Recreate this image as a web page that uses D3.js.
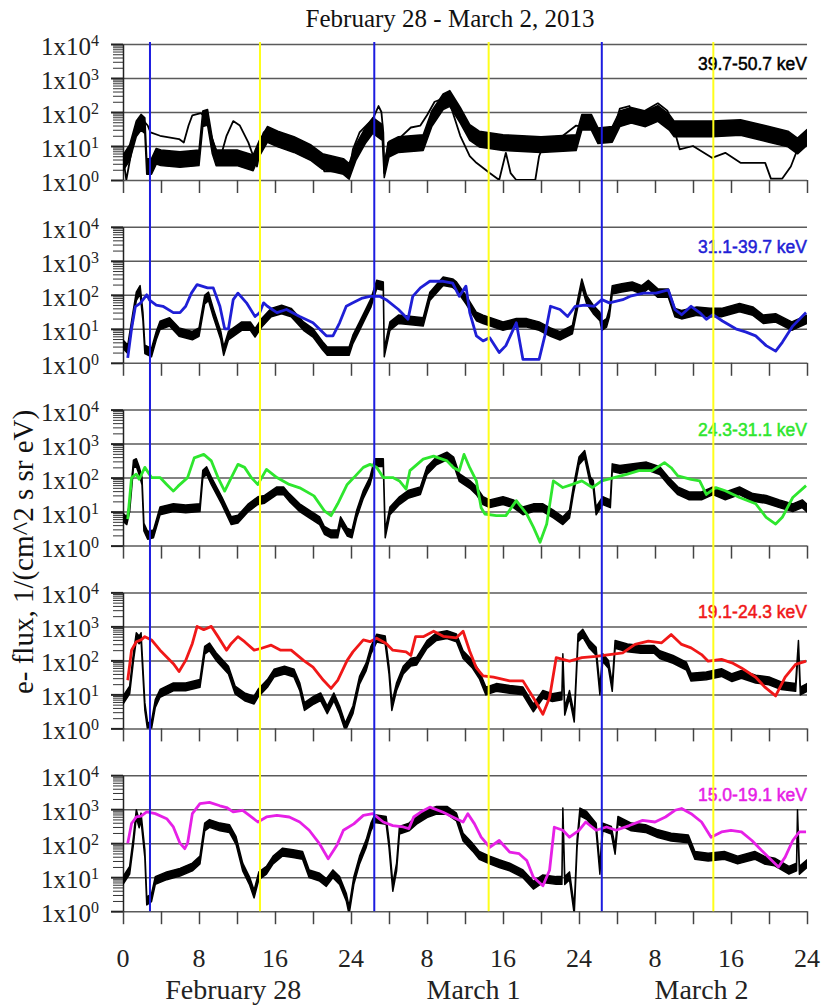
<!DOCTYPE html>
<html><head><meta charset="utf-8">
<script src="https://cdn.jsdelivr.net/npm/d3@7"></script>
<style>
html,body{margin:0;padding:0;background:#fff;}
svg{display:block;}
</style></head>
<body>
<script>
// ---------------- data ----------------
const title = "February 28 - March 2, 2013";
const yAxisTitle = "e- flux, 1/(cm^2 s sr eV)";
const channelLabels = ["39.7-50.7 keV", "31.1-39.7 keV", "24.3-31.1 keV", "19.1-24.3 keV", "15.0-19.1 keV"];
const decades = [0, 1, 2, 3, 4];
const xTickHours = [0,4,8,12,16,20,24,28,32,36,40,44,48,52,56,60,64,68,72];
const xLabelHours = [0,8,16,24,32,40,48,56,64,72];
const xLabelText = ["0","8","16","24","8","16","24","8","16","24"];
const dayLabels = ["February 28", "March 1", "March 2"];
const dayLabelHours = [11.6, 36.9, 60.9];
const blueLineHours = [2.84, 26.45, 50.4];
const yellowLineHours = [14.42, 38.49, 62.14];
// spread (multiplicative) of the noisy reference flux in each panel
const refSpread = [1.7, 1.33, 1.3, 1.3, 1.3];

// [hour, flux] — panel 1, 39.7-50.7 keV (thin black)
const ch1 = [[0,5],[0.35,1],[0.8,5],[1.4,40],[2.0,63],[2.6,40],[2.9,25],[3.9,20],[5.9,16],[6.4,12.6],[6.9,40],[7.3,80],[8.2,93],[8.8,63],[9.5,12.6],[10.2,4],[10.9,20],[11.6,54],[12.3,40],[13.2,12.6],[14.1,2.5],[14.8,25],[15.2,30],[15.8,20],[16.8,16],[18.6,10],[20.7,4],[21.2,1.8],[23.8,1.8],[24.2,8],[24.9,25],[25.6,40],[26.3,63],[26.9,150],[27.2,100],[27.4,25],[27.5,1.6],[27.9,12.6],[29,16],[30.3,35],[31.3,40],[32,80],[32.8,200],[33.7,250],[34.4,180],[35.5,20],[36.5,5],[37.2,3.2],[38.6,1.6],[39.6,1],[40.3,6.3],[40.8,1.6],[41.4,1],[43.4,1],[43.8,5],[44.5,16],[46.3,20],[47.7,40],[49.5,32],[51.5,20],[52.3,126],[53.3,150],[54,63],[54.7,100],[56.3,180],[57.3,110],[57.9,40],[58.6,8],[60,10],[62,4.5],[63.4,6.3],[65,3.2],[67.6,3.2],[68.2,1.1],[69.4,1.1],[70.3,2.5],[71,8],[72,16]];
const ref1 = [[0,3.2],[0.7,6.3],[1.4,32],[1.9,50],[2.3,40],[2.5,2.5],[3.0,2.5],[3.5,5],[4,4.5],[6,4],[8,4.5],[8.4,63],[8.9,70],[9.4,10],[9.8,4.5],[12,4.5],[13.7,3.2],[14.3,8],[15.2,22],[16.3,16],[18,11],[19.8,6.3],[21,3.5],[23.2,2.5],[23.8,1.8],[24.5,6.3],[25.5,20],[26.3,40],[27.3,25],[27.5,2],[28,8],[29,11],[31.6,12.6],[32.5,63],[33.7,200],[34.4,250],[35.5,80],[36.5,25],[37.5,16],[40,12.6],[44,11],[47.7,12.6],[48.3,50],[49.3,50],[50,20],[51.5,22],[52.3,63],[53.5,80],[55,63],[56.3,90],[57.5,50],[58,32],[62,32],[65,35],[68,22],[70,16],[71,10],[72,18]];

// panel 2, 31.1-39.7 keV
const ch2 = [[0.5,1.4],[0.9,10],[1.3,45],[1.8,56],[2.5,100],[2.8,70],[3.5,50],[4.2,46],[5.3,30],[6.0,30],[6.6,46],[7.2,112],[7.8,200],[8.9,160],[9.5,160],[10.2,46],[10.7,10],[11.1,10],[11.6,72],[12.1,112],[13.0,58],[13.9,23],[14.4,30],[14.8,58],[15.2,46],[16.2,30],[17.2,37],[18.6,23],[20.0,15],[21.4,6.2],[22.1,6.2],[22.8,15],[23.5,46],[24.2,58],[25.2,80],[26.0,90],[27.0,90],[27.7,72],[29.0,37],[30.0,19],[30.5,90],[31.3,160],[32.3,250],[33.7,250],[34.7,220],[35.4,90],[36.1,180],[36.5,30],[37.2,6.2],[37.9,4.4],[38.6,5.5],[39.6,2],[40.3,3.2],[41.4,15],[42.1,1.26],[43.8,1.26],[44.4,6.2],[45.0,46],[46.0,37],[46.8,23],[47.6,46],[48.6,50],[49.6,46],[50.4,72],[51.2,58],[52.6,72],[53.4,91],[54.8,112],[56.1,112],[57.4,140],[58.1,37],[58.8,26],[59.8,46],[60.7,30],[61.4,19],[62.1,26],[63.1,17],[64.5,10],[65.6,8],[66.6,6.2],[67.7,3.2],[68.7,2.2],[69.4,4],[70.5,12],[71.9,30]];
const ref2 = [[0,3.5],[0.5,2.5],[1.0,19],[1.4,90],[1.8,140],[2.1,23],[2.3,2.5],[3.0,2],[3.5,6.3],[3.9,12.6],[4.9,16],[5.9,8],[7.3,6.3],[8.0,8],[8.6,72],[9.0,90],[9.5,30],[10.3,6.3],[10.6,2.2],[11.1,6.3],[12.5,12],[13.4,12],[13.9,7.6],[14.6,15],[15.6,30],[16.7,37],[17.7,30],[19.0,12],[20.0,7.6],[21.0,3.2],[21.5,2.2],[23.8,2.2],[24.2,4.9],[24.9,12],[25.6,30],[26.1,58],[26.7,200],[27.4,180],[27.5,2],[28.1,12],[29.0,19],[31.6,16],[32.3,90],[33.7,250],[34.7,220],[35.1,180],[36.1,72],[37.2,23],[37.9,19],[40,12],[41.4,15],[42.5,15],[43.8,12],[45.0,8],[46.0,6.2],[47.3,9.5],[47.8,46],[48.3,220],[48.8,72],[49.5,37],[50.2,23],[50.4,12],[50.9,15],[51.2,30],[51.5,140],[52.5,160],[53.6,180],[54.6,140],[55.3,200],[56.3,112],[57.4,112],[58.1,30],[58.8,26],[60.4,33],[61.8,30],[63.0,30],[64.9,42],[66.3,33],[67.4,19],[68.7,21],[70.4,12],[72,19]];

// panel 3, 24.3-31.1 keV
const ch3 = [[0.5,6],[0.9,100],[1.4,126],[1.7,89],[2.3,200],[3.0,100],[3.9,100],[4.6,63],[5.3,40],[5.8,56],[6.8,100],[7.5,380],[8.5,480],[9.3,310],[10.0,100],[10.7,40],[11.4,100],[12.1,245],[12.8,200],[13.5,100],[14.2,63],[14.6,100],[15.1,174],[16.2,100],[17.5,63],[18.6,50],[20.1,29],[21.2,10.5],[21.9,7.6],[22.6,17],[23.6,63],[24.3,100],[25.3,200],[26.0,245],[26.7,200],[27.4,100],[28.4,100],[29.1,80],[29.8,46],[30.2,160],[31.6,350],[32.7,430],[34.1,310],[34.8,195],[35.4,160],[35.9,480],[36.5,195],[37.2,80],[37.7,13],[38.1,8.5],[39.3,7.6],[40.3,7.6],[41.4,21],[42.5,8.5],[43.2,3.5],[43.9,1.26],[44.6,4.3],[45.3,80],[46.3,51],[47.3,63],[48.3,80],[49.4,51],[50.4,80],[51.7,100],[53.1,126],[54.3,160],[55.7,160],[57.0,275],[57.7,195],[58.4,112],[59.8,89],[60.7,80],[61.4,32],[62.4,51],[63.4,41],[64.9,26],[66.6,17],[67.7,6.8],[68.7,4.3],[69.4,6.8],[70.5,26],[71.9,58]];
const ref3 = [[0,6.8],[0.4,5.4],[0.7,13],[1.1,250],[1.4,275],[1.7,160],[2.0,80],[2.2,3.5],[2.6,2],[3.2,2.2],[3.9,10.5],[5.3,13],[6.6,12],[8.1,13],[8.4,126],[8.8,160],[9.3,80],[10.4,21],[11.4,5.4],[12.1,6],[13.2,13],[14.2,21],[14.9,23],[16.2,41],[16.9,41],[17.5,26],[18.6,13],[19.6,8.5],[20.7,5.4],[21.2,2.8],[21.9,2.2],[22.6,2.2],[22.9,5.4],[23.6,2.5],[24.1,2.2],[24.6,8.5],[25.3,32],[26.0,80],[26.5,275],[27.4,275],[27.6,2.2],[28.1,10.5],[29.1,21],[30.0,32],[31.3,41],[32.0,160],[33.0,310],[34.1,430],[34.8,310],[35.4,100],[36.5,63],[37.2,41],[37.9,21],[38.6,17],[40.0,21],[41.1,17],[42.1,10.5],[43.2,13],[44.2,13],[45.3,8.5],[46.3,5.4],[47.0,8.5],[47.4,41],[48.0,310],[48.6,480],[49.2,80],[49.5,63],[49.8,10.5],[50.5,21],[51.3,17],[51.5,195],[52.3,174],[53.7,195],[55.1,220],[56.5,160],[57.4,80],[58.4,41],[59.6,29],[60.9,29],[62.1,41],[63.4,29],[64.9,41],[66.3,26],[67.7,23],[69.1,17],[70.5,13],[71.5,17],[72,12.6]];

// panel 4, 19.1-24.3 keV
const ch4 = [[0.5,26],[0.9,200],[1.4,355],[1.9,400],[2.3,500],[3.0,400],[3.9,200],[5.3,80],[5.9,47],[6.6,100],[7.3,316],[7.8,1000],[8.5,800],[9.3,1000],[10.0,500],[10.9,200],[11.4,316],[12.1,500],[12.8,355],[13.8,200],[14.5,224],[15.6,280],[16.6,200],[17.7,200],[19.0,100],[20.0,63],[21.1,26],[21.9,15],[22.6,26],[23.6,100],[24.2,178],[25.3,400],[26.0,355],[26.7,450],[27.7,316],[28.4,200],[29.8,178],[30.3,140],[30.8,500],[31.6,500],[32.7,720],[33.7,510],[35.1,460],[35.8,720],[36.5,186],[37.2,60],[37.9,35],[39.0,32],[40.7,25],[42.1,25],[43.2,8],[44.2,2.6],[44.9,8],[45.6,120],[47.0,95],[48.3,120],[49.8,132],[51.2,148],[52.6,166],[53.9,295],[55.3,370],[56.7,330],[57.7,575],[58.8,295],[59.8,234],[60.9,148],[61.6,95],[63.0,107],[64.1,85],[65.1,60],[66.6,32],[67.6,16],[68.7,9],[69.7,32],[70.8,76],[71.9,95]];
const ref4 = [[0,6.8],[0.7,13.5],[1.1,126],[1.4,500],[1.7,400],[1.9,500],[2.3,4.4],[2.6,1.1],[3.0,1.26],[3.4,5.4],[3.9,10.7],[5.3,16.6],[6.6,16.6],[8.1,21],[8.6,200],[9.1,250],[9.8,130],[11.1,52],[11.8,13.5],[12.8,8.5],[13.8,6.8],[14.2,10.7],[15.2,21],[15.9,42],[17.0,52],[18.0,42],[18.6,17],[19.1,4.4],[20.1,6.8],[20.8,8.5],[21.5,3.5],[22.2,8.5],[22.8,3.5],[23.4,1.1],[24.2,3.5],[24.9,26],[25.6,65],[26.1,200],[26.7,450],[27.6,400],[28.0,52],[28.3,4.4],[28.8,17],[29.5,52],[30.3,89],[30.9,95],[32.0,295],[33.0,500],[34.1,575],[35.1,460],[35.8,148],[36.8,76],[37.5,38],[38.2,12.6],[39.3,16],[40.7,14],[42.1,12.6],[43.2,4],[44.2,10],[45.2,8],[46.2,9],[46.3,120],[46.5,3.2],[47.0,10],[47.5,2],[47.9,460],[48.4,630],[49.1,295],[49.8,186],[50.2,12.6],[50.5,120],[51.1,76],[51.5,16],[51.8,295],[53.1,234],[54.5,210],[55.9,210],[56.5,148],[57.9,107],[59.3,68],[59.8,32],[61.4,35],[63.0,44],[64.1,31],[65.1,39],[66.6,28],[68.0,25],[69.3,18],[70.8,16],[71.1,295],[71.3,12.6],[72,16]];

// panel 5, 15.0-19.1 keV
const ch5 = [[0.5,100],[0.9,380],[1.4,590],[1.9,630],[2.5,830],[3.4,740],[4.6,525],[5.3,300],[6.0,100],[6.5,69],[6.8,100],[7.3,740],[8.1,1450],[9.1,1580],[10.2,1260],[10.9,1120],[11.6,830],[12.6,930],[13.3,660],[14.2,420],[15.1,590],[16.2,660],[17.5,590],[18.6,420],[19.6,240],[20.7,95],[21.6,35],[22.5,85],[23.2,240],[24.3,370],[25.3,660],[26.3,740],[27.4,420],[28.4,330],[29.5,300],[30.1,270],[30.6,590],[31.3,810],[32.3,1150],[33.7,810],[34.7,590],[35.8,420],[36.3,740],[37.0,370],[37.7,150],[38.6,76],[39.6,120],[40.7,55],[41.7,49],[42.5,31],[43.2,10],[44.2,5.6],[44.9,16],[45.4,295],[46.3,240],[47.0,150],[48.0,240],[48.7,420],[49.8,240],[50.9,300],[51.9,240],[53.3,330],[54.7,470],[56.0,420],[57.1,590],[58.1,930],[58.8,1050],[59.8,740],[60.9,420],[61.9,150],[63.0,215],[64.0,240],[65.1,215],[66.2,120],[67.2,62],[68.3,31],[69.0,20],[69.7,39],[70.5,120],[71.2,215],[71.9,215]];
const ref5 = [[0,8],[0.7,16],[1.1,120],[1.4,740],[1.7,370],[1.9,590],[2.3,49],[2.5,2],[3.0,2.5],[3.4,8],[4.6,11],[6.0,14],[7.3,20],[8.1,32],[8.6,300],[9.1,380],[10.2,300],[11.2,270],[11.9,120],[12.6,20],[13.3,8],[13.8,3.2],[14.3,11],[15.1,16],[15.8,32],[16.8,55],[17.9,49],[18.9,44],[19.6,12.6],[20.7,10],[21.4,7],[22.1,12.6],[22.8,8],[23.5,2.6],[23.8,1.05],[24.3,8],[24.9,32],[25.6,98],[26.1,300],[26.5,525],[27.7,470],[28.0,98],[28.4,5],[28.8,20],[29.1,240],[30.1,300],[30.9,470],[32.0,740],[33.0,930],[34.1,930],[35.1,590],[35.8,150],[36.8,76],[37.5,44],[38.6,32],[39.6,25],[40.7,20],[42.1,12.6],[43.2,5.8],[44.2,9],[45.6,8],[46.2,8],[46.3,830],[46.5,8],[47.0,11],[47.5,1.05],[47.8,98],[48.1,830],[48.8,660],[49.8,300],[50.2,16],[50.5,300],[51.4,240],[51.8,62],[52.1,470],[53.5,300],[55.0,270],[56.3,190],[57.7,150],[59.5,135],[60.2,44],[61.6,39],[63.3,44],[64.7,32],[66.5,44],[67.5,32],[68.6,28],[70.1,16],[70.9,20],[71.0,740],[71.2,16],[72,25]];

const channels = [ch1, ch2, ch3, ch4, ch5];
const references = [ref1, ref2, ref3, ref4, ref5];

// ---------------- style ----------------
const channelColors = ["#000000", "#1f1fd6", "#2ee62e", "#f01818", "#e620e6"];
const channelWidths = [1.8, 2.8, 2.8, 2.8, 2.8];
const serif = "'Liberation Serif','Times New Roman',serif";
const sans = "'Liberation Sans',Arial,sans-serif";

const W = 829, H = 1008;
const x0 = 123, x1 = 807;
const panelTop0 = 44, panelStep = 182.8, panelH = 136;

const svg = d3.select("body").append("svg").attr("width", W).attr("height", H);
svg.append("rect").attr("width", W).attr("height", H).attr("fill", "#fff");

const x = d3.scaleLinear().domain([0, 72]).range([x0, x1]);

// title
svg.append("text").attr("x", 450).attr("y", 27).attr("text-anchor", "middle")
  .attr("font-family", serif).attr("font-size", 25).attr("fill", "#111").text(title);

// y-axis title
svg.append("text").attr("transform", "translate(33,552) rotate(-90)").attr("text-anchor", "middle")
  .attr("font-family", serif).attr("font-size", 29).attr("fill", "#111").text(yAxisTitle);

const minorVals = [];
decades.slice(0, 4).forEach(d => { for (let m = 2; m <= 9; m++) minorVals.push(m * Math.pow(10, d)); });
const majorVals = decades.map(d => Math.pow(10, d));

channels.forEach((ch, i) => {
  const top = panelTop0 + i * panelStep;
  const bottom = top + panelH;
  const y = d3.scaleLog().domain([1, 1e4]).range([bottom, top]);
  const g = svg.append("g");

  // grid lines at decades
  const grid = g.append("g").attr("transform", `translate(${x0},0)`)
    .call(d3.axisLeft(y).tickValues(majorVals).tickSize(-(x1 - x0)).tickFormat(""));
  grid.select(".domain").remove();
  grid.selectAll(".tick line").attr("stroke", "#5a5a5a").attr("stroke-width", 1.5);

  // minor ticks (left comb)
  const minor = g.append("g").attr("transform", `translate(${x0},0)`)
    .call(d3.axisLeft(y).tickValues(minorVals).tickSize(10).tickSizeOuter(0).tickFormat(""));
  minor.select(".domain").remove();
  minor.selectAll(".tick line").attr("stroke", "#333").attr("stroke-width", 1);
  const major = g.append("g").attr("transform", `translate(${x0},0)`)
    .call(d3.axisLeft(y).tickValues(majorVals).tickSize(12).tickSizeOuter(0).tickFormat(""));
  major.select(".domain").attr("stroke", "#222").attr("stroke-width", 1.5);
  major.selectAll(".tick line").attr("stroke", "#222").attr("stroke-width", 2);

  // x ticks
  const xa = g.append("g").attr("transform", `translate(0,${bottom})`)
    .call(d3.axisBottom(x).tickValues(xTickHours).tickSize(13).tickSizeOuter(0).tickFormat(""));
  xa.select(".domain").remove();
  xa.selectAll(".tick line").attr("stroke", "#444").attr("stroke-width", 1.5);

  // y labels
  decades.forEach(d => {
    const t = g.append("text").attr("x", 99).attr("y", y(Math.pow(10, d)) + 11)
      .attr("text-anchor", "end").attr("font-family", serif).attr("font-size", 25).attr("fill", "#222");
    t.append("tspan").text("1x10");
    t.append("tspan").attr("dy", -9).attr("font-size", 16).text(String(d));
  });

  // clip
  const clipId = "clip" + i;
  g.append("clipPath").attr("id", clipId).append("rect")
    .attr("x", x0).attr("y", top).attr("width", x1 - x0).attr("height", panelH);
  const plot = g.append("g").attr("clip-path", `url(#${clipId})`);

  const s = refSpread[i];
  const area = d3.area().x(d => x(d[0])).y0(d => y(d[1] / s)).y1(d => y(d[1] * s));
  plot.append("path").datum(references[i]).attr("d", area)
    .attr("fill", "#000").attr("stroke", "#000").attr("stroke-width", 1.5).attr("stroke-linejoin", "round");

  const line = d3.line().x(d => x(d[0])).y(d => y(d[1]));
  plot.append("path").datum(ch).attr("d", line).attr("fill", "none")
    .attr("stroke", channelColors[i]).attr("stroke-width", channelWidths[i]).attr("stroke-linejoin", "round");

  // channel label
  g.append("text").attr("x", x1).attr("y", top + 26).attr("text-anchor", "end")
    .attr("font-family", sans).attr("font-size", 17.5).attr("fill", channelColors[i])
    .attr("stroke", channelColors[i]).attr("stroke-width", 0.5).text(channelLabels[i]);
});

// vertical event lines
const vTop = 42, vBottom = panelTop0 + 4 * panelStep + panelH;
svg.append("g").selectAll("line").data(yellowLineHours).join("line")
  .attr("x1", d => x(d)).attr("x2", d => x(d)).attr("y1", vTop).attr("y2", vBottom)
  .attr("stroke", "#ffff1a").attr("stroke-width", 2);
svg.append("g").selectAll("line").data(blueLineHours).join("line")
  .attr("x1", d => x(d)).attr("x2", d => x(d)).attr("y1", vTop).attr("y2", vBottom)
  .attr("stroke", "#1c1ce0").attr("stroke-width", 2);

// bottom labels
svg.append("g").selectAll("text").data(xLabelHours).join("text")
  .attr("x", d => x(d)).attr("y", 967).attr("text-anchor", "middle")
  .attr("font-family", serif).attr("font-size", 26).attr("fill", "#222")
  .text((d, i) => xLabelText[i]);
svg.append("g").selectAll("text").data(dayLabelHours).join("text")
  .attr("x", d => x(d)).attr("y", 999).attr("text-anchor", "middle")
  .attr("font-family", serif).attr("font-size", 28).attr("fill", "#222")
  .text((d, i) => dayLabels[i]);
</script>
</body></html>
